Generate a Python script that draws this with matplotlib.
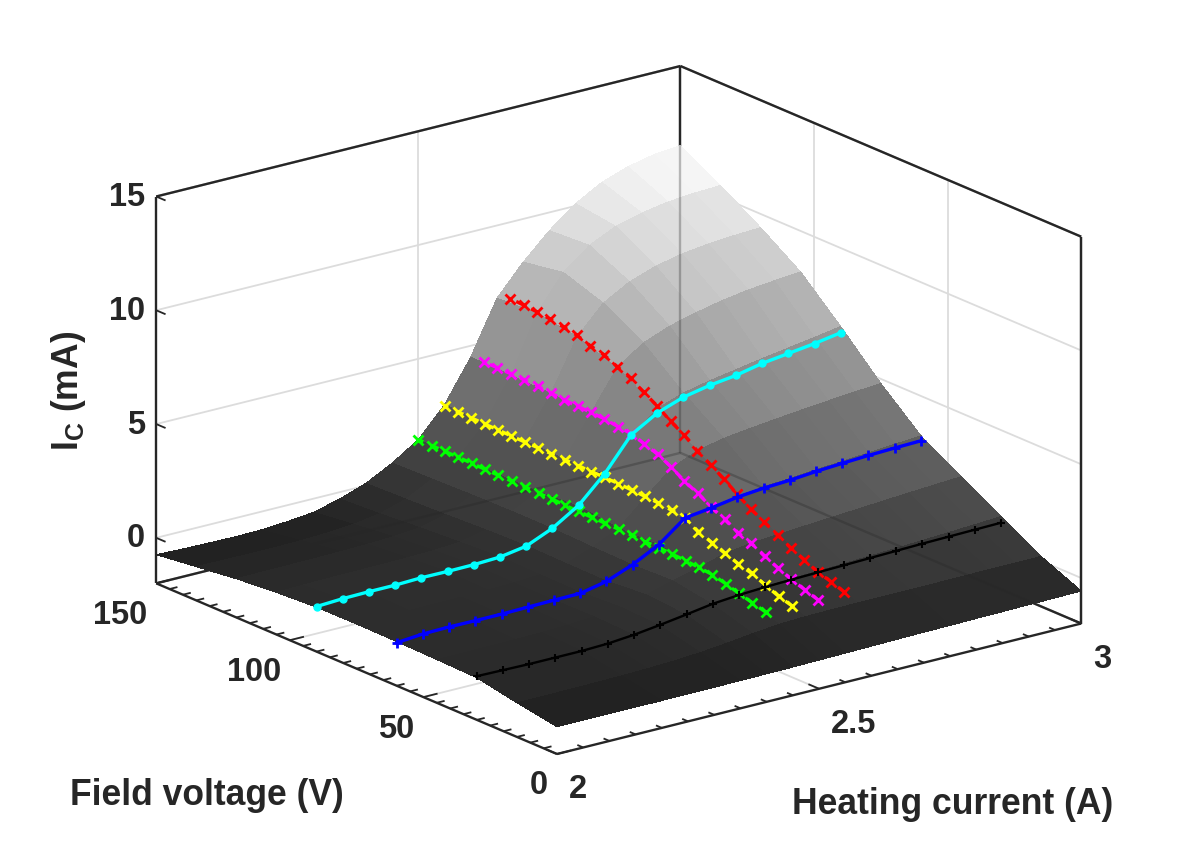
import matplotlib
matplotlib.use("Agg")
import matplotlib.pyplot as plt
import numpy as np
from matplotlib.colors import LinearSegmentedColormap
from mpl_toolkits.mplot3d import proj3d

plt.rcParams["font.family"] = ["Liberation Sans", "DejaVu Sans"]
plt.rcParams["font.weight"] = "bold"

AX_COL = "#262626"
GRID_COL = "#dcdcdc"

# fitted surface: rows = field voltage, columns = heating current
heat_grid = [2.00, 2.05, 2.10, 2.15, 2.20, 2.25, 2.30, 2.35, 2.40, 2.45, 2.50,
             2.55, 2.60, 2.65, 2.70, 2.75, 2.80, 2.85, 2.90, 2.95, 3.00]
field_grid = [0, 15, 30, 45, 60, 75, 90, 105, 120, 135, 150]
ic_surface = [
    [-0.80, -0.80, -0.80, -0.80, -0.80, -0.79, -0.79, -0.78, -0.77, -0.76, -0.74, -0.72, -0.70, -0.68, -0.66, -0.65, -0.63, -0.62, -0.60, -0.59, -0.57],
    [-0.50, -0.50, -0.49, -0.48, -0.46, -0.43, -0.38, -0.30, -0.18, -0.04, 0.08, 0.13, 0.15, 0.16, 0.16, 0.17, 0.17, 0.18, 0.19, 0.19, 0.20],
    [-0.15, -0.15, -0.15, -0.14, -0.12, -0.08, 0.00, 0.12, 0.30, 0.48, 0.62, 0.70, 0.76, 0.80, 0.85, 0.90, 0.95, 1.01, 1.07, 1.13, 1.20],
    [-0.10, -0.10, -0.09, -0.08, -0.06, -0.02, 0.06, 0.20, 0.45, 0.78, 1.08, 1.40, 1.58, 1.66, 1.74, 1.82, 1.90, 1.98, 2.06, 2.13, 2.20],
    [-0.06, -0.04, -0.03, -0.02, -0.01, 0.01, 0.04, 0.10, 0.30, 0.72, 1.30, 2.10, 2.40, 2.60, 2.72, 2.81, 2.90, 2.99, 3.07, 3.16, 3.25],
    [-0.04, -0.03, -0.02, -0.01, 0.00, 0.02, 0.05, 0.12, 0.32, 0.76, 1.30, 2.35, 3.35, 3.85, 4.10, 4.25, 4.38, 4.50, 4.61, 4.71, 4.80],
    [-0.05, 0.00, 0.03, 0.04, 0.06, 0.07, 0.09, 0.15, 0.35, 0.82, 1.50, 2.60, 4.05, 4.95, 5.35, 5.60, 5.80, 6.00, 6.18, 6.36, 6.55],
    [-0.15, -0.12, -0.10, -0.09, -0.08, -0.06, -0.03, 0.05, 0.30, 0.82, 1.40, 2.55, 4.30, 6.00, 6.80, 7.25, 7.55, 7.80, 7.98, 8.10, 8.20],
    [-0.30, -0.29, -0.28, -0.27, -0.25, -0.22, -0.17, -0.06, 0.22, 0.80, 1.40, 2.60, 4.40, 6.60, 7.80, 8.45, 8.85, 9.10, 9.25, 9.34, 9.40],
    [-0.52, -0.53, -0.54, -0.54, -0.52, -0.47, -0.38, -0.20, 0.15, 0.75, 1.42, 2.62, 4.45, 6.90, 8.40, 9.30, 9.85, 10.15, 10.35, 10.45, 10.50],
    [-0.74, -0.78, -0.80, -0.82, -0.80, -0.72, -0.60, -0.30, 0.10, 0.70, 1.45, 2.70, 4.50, 6.80, 8.10, 9.20, 10.10, 10.75, 11.15, 11.40, 11.50],
]

# measured I_C vs heating current at fixed field voltage
heat_pts = [2.00, 2.05, 2.10, 2.15, 2.20, 2.25, 2.30, 2.35, 2.40, 2.45, 2.50,
            2.55, 2.60, 2.65, 2.70, 2.75, 2.80, 2.85, 2.90, 2.95, 3.00]
ic_90V = [-0.02, 0.04, 0.06, 0.06, 0.10, 0.09, 0.10, 0.15, 0.34, 0.84, 1.56,
          2.67, 4.08, 4.76, 5.17, 5.40, 5.55, 5.79, 5.94, 6.09, 6.28]
ic_60V = [-0.11, -0.01, 0.01, 0.00, 0.00, 0.02, 0.04, 0.05, 0.29, 0.74, 1.33,
          2.22, 2.37, 2.56, 2.67, 2.73, 2.83, 2.90, 2.96, 3.00, 3.03]
ic_30V = [-0.08, -0.10, -0.12, -0.12, -0.12, -0.08, 0.02, 0.17, 0.34, 0.52, 0.62,
          0.68, 0.72, 0.75, 0.78, 0.81, 0.84, 0.87, 0.89, 0.91, 0.93]

# measured I_C vs field voltage at fixed heating current
field_pts_a = [20, 25, 30, 35, 40, 45, 50, 55, 60, 65, 70, 75, 80, 85, 90, 95,
               100, 105, 110, 115, 120, 125, 130, 135, 140, 145]
field_pts_b = field_pts_a + [150]
ic_265A = [0.39, 0.60, 0.77, 1.07, 1.32, 1.64, 1.98, 2.28, 2.68, 3.10, 3.48, 3.84, 4.30,
           4.64, 5.07, 5.41, 5.79, 6.05, 6.32, 6.46, 6.67, 6.78, 6.88, 6.95, 7.00, 7.04]
ic_260A = [0.33, 0.53, 0.73, 0.98, 1.24, 1.58, 1.79, 2.12, 2.41, 2.76, 3.05, 3.42, 3.73,
           3.93, 4.14, 4.20, 4.29, 4.32, 4.34, 4.37, 4.42, 4.47, 4.50, 4.52, 4.53, 4.54]
ic_255A = [0.36, 0.53, 0.78, 1.03, 1.20, 1.41, 1.64, 1.87, 2.22, 2.31, 2.38, 2.42, 2.45, 2.48,
           2.50, 2.51, 2.52, 2.53, 2.54, 2.55, 2.56, 2.57, 2.59, 2.60, 2.62, 2.63, 2.63]
ic_250A = [0.37, 0.53, 0.69, 0.87, 1.02, 1.08, 1.13, 1.17, 1.20, 1.21, 1.24, 1.26, 1.27, 1.28,
           1.29, 1.31, 1.34, 1.35, 1.37, 1.37, 1.38, 1.39, 1.41, 1.42, 1.43, 1.44, 1.45]

W, H = 1196, 854
fig = plt.figure(figsize=(W / 100, H / 100), dpi=100)
ax = fig.add_axes([0, 0, 1, 1], projection="3d", proj_type="ortho", computed_zorder=False)
xlo, xhi = 2, 3
ylo, yhi = 0, 150
zlo, zhi = -2, 15
ax.set_xlim(xlo, xhi)
ax.set_ylim(ylo, yhi)
ax.set_zlim(zlo, zhi)
ax.set_box_aspect((1, 1, 0.62))
ax.view_init(elev=19, azim=-127.4)
ax.set_axis_off()


def seg(p, q, **kw):
    ax.plot([p[0], q[0]], [p[1], q[1]], [p[2], q[2]], solid_capstyle="butt", **kw)


# grid on the back walls and floor
gkw = dict(color=GRID_COL, lw=1.3, zorder=1)
for z in [0, 5, 10]:
    seg((xlo, yhi, z), (xhi, yhi, z), **gkw)
    seg((xhi, yhi, z), (xhi, ylo, z), **gkw)
seg((2.5, yhi, zlo), (2.5, yhi, zhi), **gkw)
seg((2.5, ylo, zlo), (2.5, yhi, zlo), **gkw)
for v in [50, 100]:
    seg((xhi, v, zlo), (xhi, v, zhi), **gkw)
    seg((xlo, v, zlo), (xhi, v, zlo), **gkw)

# back edges of the box (second pass shows them faintly through the surface)
back_edges = [((xhi, yhi, zlo), (xhi, yhi, zhi)),
              ((xhi, ylo, zlo), (xhi, ylo, zhi)),
              ((xlo, yhi, zhi), (xhi, yhi, zhi)),
              ((xhi, yhi, zhi), (xhi, ylo, zhi)),
              ((xlo, yhi, zlo), (xhi, yhi, zlo)),
              ((xhi, yhi, zlo), (xhi, ylo, zlo))]
for p, q in back_edges:
    seg(p, q, color=AX_COL, lw=1.7, zorder=1.5)
    seg(p, q, color=AX_COL, lw=1.7, alpha=0.3, zorder=2.5)

# surface (opaque, MATLAB gray seen through a little transparency)
surf_cmap = LinearSegmentedColormap.from_list("mgray", ["#1f1f1f", "#ffffff"])
X, Y = np.meshgrid(heat_grid, field_grid)
Z = np.array(ic_surface)
ax.plot_surface(X, Y, Z, cmap=surf_cmap, vmin=Z.min(), vmax=Z.max(), rstride=1, cstride=1,
                linewidth=0, antialiased=False, shade=False, zorder=2)

# front axes and ticks
akw = dict(color=AX_COL, lw=1.7, zorder=3)
seg((xlo, ylo, zlo), (xhi, ylo, zlo), **akw)
seg((xlo, ylo, zlo), (xlo, yhi, zlo), **akw)
seg((xlo, yhi, zlo), (xlo, yhi, zhi), **akw)
tkw = dict(color=AX_COL, lw=1.3, zorder=3)
for t in np.linspace(xlo, xhi, 21):
    ln = 4.0 if abs(t * 2 - round(t * 2)) < 1e-6 else 2.2
    seg((t, ylo, zlo), (t, ylo + ln, zlo), **tkw)
for t in np.linspace(ylo, yhi, 31):
    ln = 0.027 if t % 50 == 0 else 0.015
    seg((xlo, t, zlo), (xlo + ln, t, zlo), **tkw)
for t in [0, 5, 10, 15]:
    seg((xlo, yhi, t), (xlo, yhi - 3.5, t), **tkw)

# measured curves
ax.plot(heat_pts, [90] * len(heat_pts), ic_90V, color="#00ffff", lw=2.4,
        marker="o", ms=5, zorder=5)
ax.plot(heat_pts, [60] * len(heat_pts), ic_60V, color="#0000ff", lw=2.4,
        marker="+", ms=7, mew=2, zorder=5)
ax.plot(heat_pts, [30] * len(heat_pts), ic_30V, color="black", lw=1.7,
        marker="+", ms=6, mew=1.5, zorder=5)

dkw = dict(lw=2.4, marker="x", ms=7, mew=2, dashes=(2.4, 2.6), zorder=4)
ax.plot([2.65] * len(field_pts_a), field_pts_a, ic_265A, color="#ff0000", **dkw)
ax.plot([2.60] * len(field_pts_a), field_pts_a, ic_260A, color="#ff00ff", **dkw)
ax.plot([2.55] * len(field_pts_b), field_pts_b, ic_255A, color="#ffff00", **dkw)
ax.plot([2.50] * len(field_pts_b), field_pts_b, ic_250A, color="#00ff00", **dkw)

# place the projected box where the reference has it
fig.canvas.draw()


def to_view(x, y, z):
    xs, ys, _ = proj3d.proj_transform(x, y, z, ax.get_proj())
    return float(xs), float(ys)


def to_px(x, y, z):
    return np.array(ax.transData.transform(to_view(x, y, z)))


left = to_px(xlo, yhi, zlo)
right = to_px(xhi, ylo, zlo)
front = to_px(xlo, ylo, zlo)
bb = ax.get_position()
L0 = bb.width * W
c0 = np.array([(bb.x0 + bb.width / 2) * W, (bb.y0 + bb.height / 2) * H])
s = 925.0 / (right[0] - left[0])
L = L0 * s
target = np.array([557.0, H - 755.0])
c = target - s * (front - c0)
ax.set_position([(c[0] - L / 2) / W, (c[1] - L / 2) / H, L / W, L / H])

# tick labels
tl = dict(xycoords="data", textcoords="offset pixels", fontsize=23.5, fontweight="bold",
          color=AX_COL, annotation_clip=False)
for t in [0, 5, 10, 15]:
    ax.annotate(str(t), xy=to_view(xlo, yhi, t), xytext=(-11, 0), ha="right", va="center", **tl)
for t in [0, 50, 100, 150]:
    ax.annotate(str(t), xy=to_view(xlo, t, zlo), xytext=(-9, -31), ha="right", va="center", **tl)
for t, s_ in [(2, "2"), (2.5, "2.5"), (3, "3")]:
    ax.annotate(s_, xy=to_view(t, ylo, zlo), xytext=(12, -35), ha="left", va="center", **tl)

# axis labels
lkw = dict(fontsize=25.6, fontweight="bold", color=AX_COL, ha="center", va="center")
fig.text(207 / W, 1 - 796 / H, "Field voltage (V)", **lkw)
fig.text(953 / W, 1 - 805 / H, "Heating current (A)", **lkw)
fig.text(68 / W, 1 - 391 / H, r"I$_\mathregular{C}$ (mA)", rotation=90, **lkw)

fig.savefig("out.png", dpi=100)
